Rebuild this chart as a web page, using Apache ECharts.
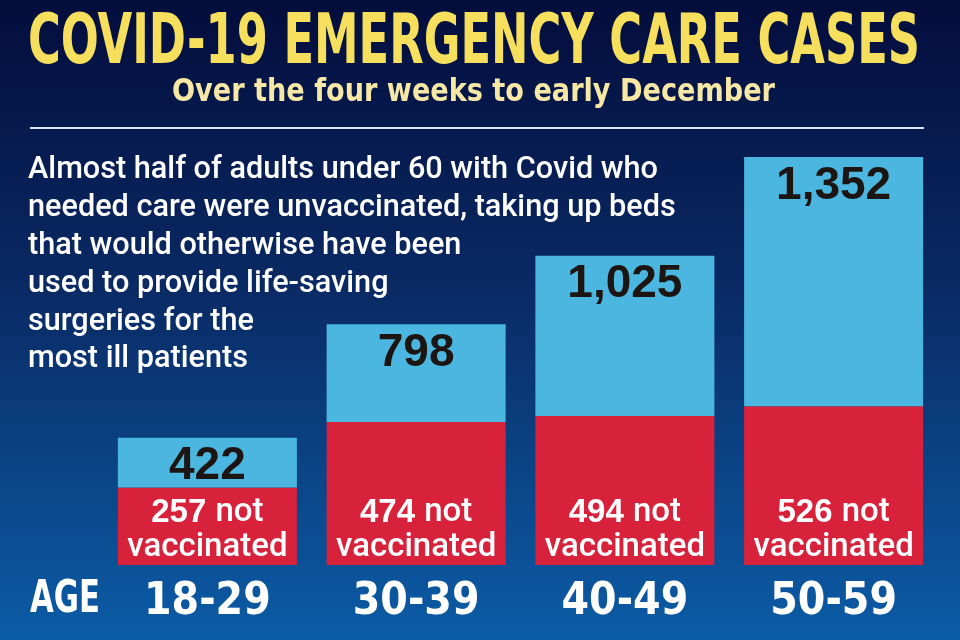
<!DOCTYPE html>
<html><head><meta charset="utf-8">
<script src="https://cdn.jsdelivr.net/npm/echarts@6/dist/echarts.min.js"></script>
<style>html,body{margin:0;padding:0;background:#031040}#c{width:960px;height:640px}</style>
</head><body><div id="c"></div>
<script>
// ---- data ----
const ageGroups = ['18-29', '30-39', '40-49', '50-59'];
const totalCases = [422, 798, 1025, 1352];
const notVaccinated = [257, 474, 494, 526];
const vaccinated = [165, 324, 531, 826];
const titleText = 'COVID-19 EMERGENCY CARE CASES';
const subtitleText = 'Over the four weeks to early December';
const bodyLines = [
  'Almost half of adults under 60 with Covid who',
  'needed care were unvaccinated, taking up beds',
  'that would otherwise have been',
  'used to provide life-saving',
  'surgeries for the',
  'most ill patients'
];
const axisName = 'AGE';

// ---- helpers ----
const ctx = document.createElement('canvas').getContext('2d');
function hasFont(name) {
  const s = 'mmmmmmmmmmlli1WQ';
  ctx.font = '72px monospace'; const a = ctx.measureText(s).width;
  ctx.font = '72px "' + name + '", monospace'; const b = ctx.measureText(s).width;
  return a !== b;
}
const cond = hasFont('Liberation Sans Narrow') ? 'Liberation Sans Narrow'
  : (hasFont('DejaVu Sans Condensed') ? 'DejaVu Sans Condensed' : 'Liberation Sans');
function measure(t, font) { ctx.font = font; return ctx.measureText(t).width; }
function fitText(t, font, x, cy, w, fill) {
  const sx = w / measure(t, font);
  return { type: 'text', x: x, y: cy, scaleX: sx, silent: true,
    style: { text: t, x: 0, y: 0, font: font, fill: fill, textAlign: 'left', textVerticalAlign: 'middle' } };
}

const titleFont = 'bold 70px "' + cond + '"';
const subFont = 'bold 32px "' + cond + '"';
const bodyFont = '500 32px Roboto';
const ageFont = 'bold 44px "' + cond + '"';
const bodyScale = 630 / measure(bodyLines[0], bodyFont);
const bodyY = [170, 208, 246, 284, 322, 359];

const graphics = [
  fitText(titleText, titleFont, 28, 45, 892, '#f6df5d'),
  fitText(subtitleText, subFont, 172, 93, 603, '#f7e8a6'),
  { type: 'rect', shape: { x: 30, y: 127, width: 894, height: 2 }, style: { fill: '#dde5f5' }, silent: true },
  fitText(axisName, ageFont, 30, 601, 70, '#ffffff')
];
bodyLines.forEach((l, i) => {
  graphics.push({ type: 'text', x: 28, y: bodyY[i], scaleX: bodyScale, silent: true,
    style: { text: l, x: 0, y: 0, font: bodyFont, fill: '#ffffff', textAlign: 'left', textVerticalAlign: 'middle' } });
});

const chart = echarts.init(document.getElementById('c'), null, { renderer: 'canvas' });
chart.setOption({
  animation: false,
  backgroundColor: { type: 'linear', x: 0, y: 0, x2: 0, y2: 1,
    colorStops: [{ offset: 0, color: '#030d3c' }, { offset: 0.45, color: '#0a2a64' }, { offset: 1, color: '#0b5ca6' }] },
  grid: { left: 103, right: 22, top: 157, bottom: 75 },
  xAxis: { type: 'category', data: ageGroups,
    axisLine: { show: false }, axisTick: { show: false },
    axisLabel: { color: '#ffffff', fontFamily: cond, fontWeight: 'bold', fontSize: 44, lineHeight: 44, margin: 16 } },
  yAxis: { type: 'value', min: 0, max: 1352, show: false, splitLine: { show: false } },
  series: [
    { type: 'bar', stack: 'a', data: notVaccinated, barWidth: 179,
      itemStyle: { color: '#d8213a' },
      label: { show: true, position: 'insideBottom', distance: 0,
        formatter: p => '{b|' + p.value + ' }{n|not}\n{n|vaccinated}',
        rich: {
          b: { fontWeight: 'bold', fontSize: 33, color: '#fff', fontFamily: 'Liberation Sans', lineHeight: 35 },
          n: { fontSize: 33, color: '#fff', fontFamily: 'Roboto', fontWeight: 500, lineHeight: 35 }
        } } },
    { type: 'bar', stack: 'a', data: vaccinated, barWidth: 179,
      itemStyle: { color: '#4bb7e0' },
      label: { show: true, position: 'insideTop', distance: 6,
        formatter: p => totalCases[p.dataIndex].toLocaleString('en-US'),
        color: '#1c1512', fontWeight: 'bold', fontSize: 46, lineHeight: 46, fontFamily: 'Liberation Sans' } }
  ],
  graphic: graphics
});
</script>
</body></html>
